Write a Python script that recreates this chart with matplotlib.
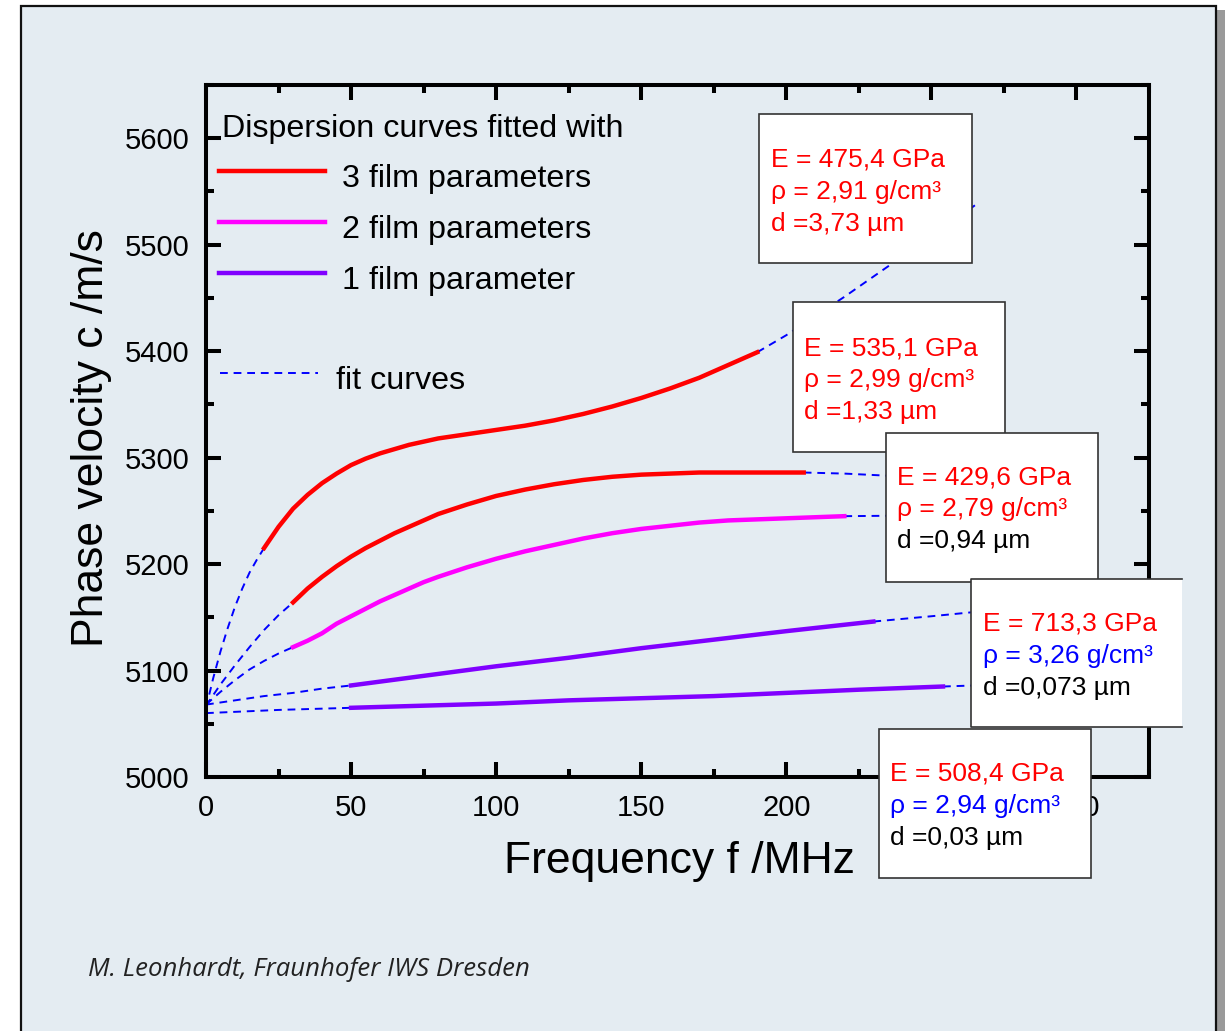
import matplotlib
matplotlib.use("Agg")
import matplotlib.pyplot as plt
from matplotlib.patches import Rectangle
from matplotlib.lines import Line2D
from matplotlib.ticker import MultipleLocator

plt.rcParams['font.family'] = ['Liberation Sans', 'DejaVu Sans']

W, H = 1227, 1031
BG = '#e4ecf2'
RED, MAGENTA, PURPLE, BLUE = '#ff0000', '#ff00ff', '#8000ff', '#0000ff'

# measured dispersion curves (f in MHz, c in m/s)
f_red1 = [20, 25, 30, 35, 40, 45, 50, 55, 60, 65, 70, 75, 80, 90, 100, 110, 120, 130, 140, 150,
          160, 170, 180, 190]
c_red1 = [5215, 5235, 5252, 5265, 5276, 5285, 5293, 5299, 5304, 5308, 5312, 5315, 5318, 5322, 5326,
          5330, 5335, 5341, 5348, 5356, 5365, 5375, 5387, 5399]
f_red2 = [30, 35, 40, 45, 50, 55, 60, 65, 70, 75, 80, 90, 100, 110, 120, 130, 140, 150, 160, 170,
          180, 190, 200, 206]
c_red2 = [5164, 5177, 5188, 5198, 5207, 5215, 5222, 5229, 5235, 5241, 5247, 5256, 5264, 5270, 5275,
          5279, 5282, 5284, 5285, 5286, 5286, 5286, 5286, 5286]
f_mag = [30, 35, 40, 45, 50, 55, 60, 65, 70, 75, 80, 90, 100, 110, 120, 130, 140, 150, 160, 170,
         180, 190, 200, 210, 220]
c_mag = [5122, 5128, 5135, 5144, 5151, 5158, 5165, 5171, 5177, 5183, 5188, 5197, 5205, 5212, 5218,
         5224, 5229, 5233, 5236, 5239, 5241, 5242, 5243, 5244, 5245]
f_pur1 = [50, 75, 100, 125, 150, 175, 200, 230]
c_pur1 = [5086, 5095, 5104, 5112, 5121, 5129, 5137, 5146]
f_pur2 = [50, 75, 100, 125, 150, 175, 200, 225, 254]
c_pur2 = [5065, 5067, 5069, 5072, 5074, 5076, 5079, 5082, 5085]

# fit curves (extrapolated parts)
fit_f = [
    [0, 2.5, 5, 7.5, 10, 12.5, 15, 17.5, 20], [190, 200, 210, 220, 230, 240, 250, 260, 265],
    [0, 5, 10, 15, 20, 25, 30], [206, 220, 235, 250, 265],
    [0, 5, 10, 15, 20, 25, 30], [220, 240, 265],
    [0, 10, 20, 30, 40, 50], [230, 250, 265],
    [0, 25, 50], [254, 265],
]
fit_c = [
    [5065, 5093, 5118, 5140, 5160, 5177, 5192, 5204, 5215],
    [5399, 5415, 5433, 5451, 5470, 5489, 5508, 5527, 5537],
    [5067, 5087, 5105, 5122, 5138, 5152, 5164], [5286, 5285, 5283, 5281, 5279],
    [5068, 5080, 5091, 5101, 5109, 5116, 5122], [5245, 5245.5, 5246],
    [5068, 5072, 5076, 5079, 5083, 5086], [5146, 5151, 5155],
    [5060, 5063, 5065], [5085, 5086],
]

# fitted film parameters
E_vals = ['475,4', '535,1', '429,6', '713,3', '508,4']
rho_vals = ['2,91', '2,99', '2,79', '3,26', '2,94']
d_vals = ['3,73', '1,33', '0,94', '0,073', '0,03']
E_col = [RED, RED, RED, RED, RED]
rho_col = [RED, RED, RED, BLUE, BLUE]
d_col = [RED, RED, 'black', 'black', 'black']


def fx(px):
    return px / W


def fy(py):
    return 1 - py / H


fig = plt.figure(figsize=(W / 100, H / 100), dpi=100)
fig.patch.set_facecolor('white')

# panel frame with shadow
fig.add_artist(Rectangle((fx(25), -0.05), fx(1200), fy(10) + 0.05, transform=fig.transFigure,
                         facecolor='#9a9a9a', edgecolor='none', zorder=-12))
fig.add_artist(Rectangle((fx(21), -0.05), fx(1195), fy(6) + 0.05, transform=fig.transFigure,
                         facecolor=BG, edgecolor='#111111', lw=1.6, zorder=-11))

ax = fig.add_axes([fx(206), fy(777), fx(1149) - fx(206), (777 - 85) / H])
ax.set_facecolor('none')

for xs, ys in zip(fit_f, fit_c):
    ax.plot(xs, ys, color=BLUE, lw=1.4, ls=(0, (4, 3)))
ax.plot(f_red1, c_red1, color=RED, lw=3.2)
ax.plot(f_red2, c_red2, color=RED, lw=3.2)
ax.plot(f_mag, c_mag, color=MAGENTA, lw=3.2)
ax.plot(f_pur1, c_pur1, color=PURPLE, lw=3.2)
ax.plot(f_pur2, c_pur2, color=PURPLE, lw=3.2)

ax.set_xlim(0, 325)
ax.set_ylim(5000, 5650)
ax.xaxis.set_major_locator(MultipleLocator(50))
ax.xaxis.set_minor_locator(MultipleLocator(25))
ax.yaxis.set_major_locator(MultipleLocator(100))
ax.yaxis.set_minor_locator(MultipleLocator(50))
ax.tick_params(which='both', direction='in', top=True, right=True, width=2.9, labelsize=21)
ax.tick_params(which='major', length=11)
ax.tick_params(which='minor', length=6)
ax.tick_params(axis='y', pad=12)
ax.tick_params(axis='x', pad=12)
for s in ax.spines.values():
    s.set_linewidth(2.9)

fig.text(fx(679), fy(873), 'Frequency f /MHz', fontsize=32, ha='center', va='baseline')
fig.text(fx(92), fy(438), 'Phase velocity c /m/s', fontsize=32, rotation=90, ha='center', va='center')

# legend
fig.text(fx(222), fy(137), 'Dispersion curves fitted with', fontsize=23.2, va='baseline')
leg = [(RED, '3 film parameters', 171, 187), (MAGENTA, '2 film parameters', 222, 238),
       (PURPLE, '1 film parameter', 273, 289)]
for col, lab, ly, ty in leg:
    fig.add_artist(Line2D([fx(219), fx(325)], [fy(ly)] * 2, transform=fig.transFigure, color=col, lw=3.2))
    fig.text(fx(342), fy(ty), lab, fontsize=23.2, va='baseline')
fig.add_artist(Line2D([fx(220), fx(318)], [fy(373)] * 2, transform=fig.transFigure, color=BLUE,
                      lw=1.4, ls=(0, (4, 3))))
fig.text(fx(336), fy(389), 'fit curves', fontsize=23.2, va='baseline')

# parameter boxes: left, top, right, bottom, text left, first baseline
boxes = [(759, 114, 972, 263, 771, 167), (793, 302, 1005, 452, 804, 355),
         (886, 433, 1098, 582, 897, 484), (971, 579, 1182, 727, 983, 631),
         (879, 729, 1091, 878, 890, 781)]
for i, (l, t, r, b, tx, ty) in enumerate(boxes):
    z = 5 + 2 * i
    open_right = (i == 3)
    fig.add_artist(Rectangle((fx(l), fy(b)), fx(r) - fx(l), (b - t) / H, transform=fig.transFigure,
                             facecolor='white', edgecolor='none' if open_right else '#333333',
                             lw=1.2, zorder=z))
    if open_right:
        fig.add_artist(Line2D([fx(r), fx(l), fx(l), fx(r)], [fy(t), fy(t), fy(b), fy(b)],
                              transform=fig.transFigure, color='#333333', lw=1.2, zorder=z))
    lines = [('E = %s GPa' % E_vals[i], E_col[i]),
             ('ρ = %s g/cm³' % rho_vals[i], rho_col[i]),
             ('d =%s µm' % d_vals[i], d_col[i])]
    for k, (txt, col) in enumerate(lines):
        fig.text(fx(tx), fy(ty + 32 * k), txt, color=col, fontsize=19, va='baseline', zorder=z + 1)

fig.text(fx(88), fy(976), 'M. Leonhardt, Fraunhofer IWS Dresden', fontsize=18.5, style='italic',
         family=['Open Sans', 'DejaVu Sans'], color='#222222', va='baseline')

fig.savefig('out.png', dpi=100)
